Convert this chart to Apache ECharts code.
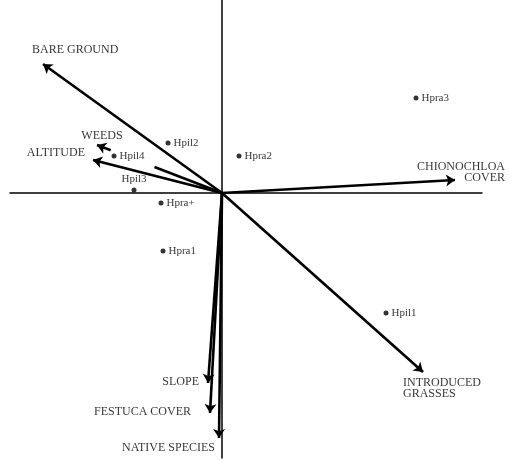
<!DOCTYPE html>
<html>
<head>
<meta charset="utf-8">
<script src="https://cdn.jsdelivr.net/npm/echarts@6/dist/echarts.min.js"></script>
<style>
  html, body { margin: 0; padding: 0; background: #fff; }
  #chart { width: 513px; height: 461px; }
</style>
</head>
<body>
<div id="chart"></div>
<script>
// environmental vectors (arrow tips, ordination units)
const vectorNames = ['BARE GROUND', 'WEEDS', 'ALTITUDE', 'CHIONOCHLOA\nCOVER', 'INTRODUCED\nGRASSES', 'SLOPE', 'FESTUCA COVER', 'NATIVE SPECIES']
const vectorX = [-1.79, -1.25, -1.29, 2.33, 2.01, -0.14, -0.12, -0.03]
const vectorY = [1.29, 0.48, 0.33, 0.13, -1.79, -1.90, -2.20, -2.45]

// sites
const siteNames = ['Hpra3', 'Hpra2', 'Hpil2', 'Hpil4', 'Hpil3', 'Hpra+', 'Hpra1', 'Hpil1']
const siteX = [1.94, 0.17, -0.54, -1.08, -0.88, -0.61, -0.59, 1.64]
const siteY = [0.95, 0.37, 0.50, 0.37, 0.03, -0.10, -0.58, -1.20]

// label placement for the vector names: [dx, dy, align]
const vectorLabelPos = [
  [-11, -14, 'left'],
  [5, -9, 'center'],
  [-8, -7, 'right'],
  [50, -8, 'right'],
  [-20, 16, 'left'],
  [-9, -1, 'right'],
  [-19, -1, 'right'],
  [-4, 10, 'right']
]
// WEEDS arrow is broken around the Hpil4 label
const weedsGap = [0.54, 0.89]

const font = 'Liberation Serif'
const ink = '#000'

const arrowData = []
const stubData = []
vectorNames.forEach((n, i) => {
  if (n === 'WEEDS') {
    stubData.push({ coords: [[0, 0], [vectorX[i] * weedsGap[0], vectorY[i] * weedsGap[0]]] })
    arrowData.push({ coords: [[vectorX[i] * weedsGap[1], vectorY[i] * weedsGap[1]], [vectorX[i], vectorY[i]]] })
  } else {
    arrowData.push({ coords: [[0, 0], [vectorX[i], vectorY[i]]] })
  }
})

const tipLabels = vectorNames.map((n, i) => ({
  value: [vectorX[i], vectorY[i]],
  label: {
    show: true,
    formatter: n,
    position: [vectorLabelPos[i][0], vectorLabelPos[i][1]],
    align: vectorLabelPos[i][2],
    verticalAlign: 'middle'
  }
}))

const sites = siteNames.map((n, i) => ({
  name: n,
  value: [siteX[i], siteY[i]],
  label: n === 'Hpil3' ? { position: 'top', distance: 3 } : {}
}))

const chart = echarts.init(document.getElementById('chart'))
chart.setOption({
  animation: false,
  backgroundColor: '#fff',
  grid: { left: 10, right: 31, top: 0, bottom: 3 },
  xAxis: {
    type: 'value', min: -2.12, max: 2.60,
    axisLine: { onZero: true, lineStyle: { color: ink, width: 1.5 } },
    axisTick: { show: false }, axisLabel: { show: false }, splitLine: { show: false }
  },
  yAxis: {
    type: 'value', min: -2.65, max: 1.93,
    axisLine: { onZero: true, lineStyle: { color: ink, width: 1.5 } },
    axisTick: { show: false }, axisLabel: { show: false }, splitLine: { show: false }
  },
  series: [
    {
      type: 'lines',
      coordinateSystem: 'cartesian2d',
      symbol: ['none', 'arrow'],
      symbolSize: [0, 9],
      lineStyle: { color: ink, width: 2.6, opacity: 1, curveness: 0 },
      data: arrowData
    },
    {
      type: 'lines',
      coordinateSystem: 'cartesian2d',
      symbol: ['none', 'none'],
      lineStyle: { color: ink, width: 2.6, opacity: 1, curveness: 0 },
      data: stubData
    },
    {
      type: 'scatter',
      symbolSize: 0,
      label: { color: ink, fontFamily: font, fontSize: 12, lineHeight: 11 },
      data: tipLabels
    },
    {
      type: 'scatter',
      symbol: 'circle',
      symbolSize: 5,
      itemStyle: { color: ink },
      label: { show: true, position: 'right', distance: 3, formatter: '{b}', color: ink, fontFamily: font, fontSize: 11 },
      data: sites
    }
  ]
})
</script>
</body>
</html>
